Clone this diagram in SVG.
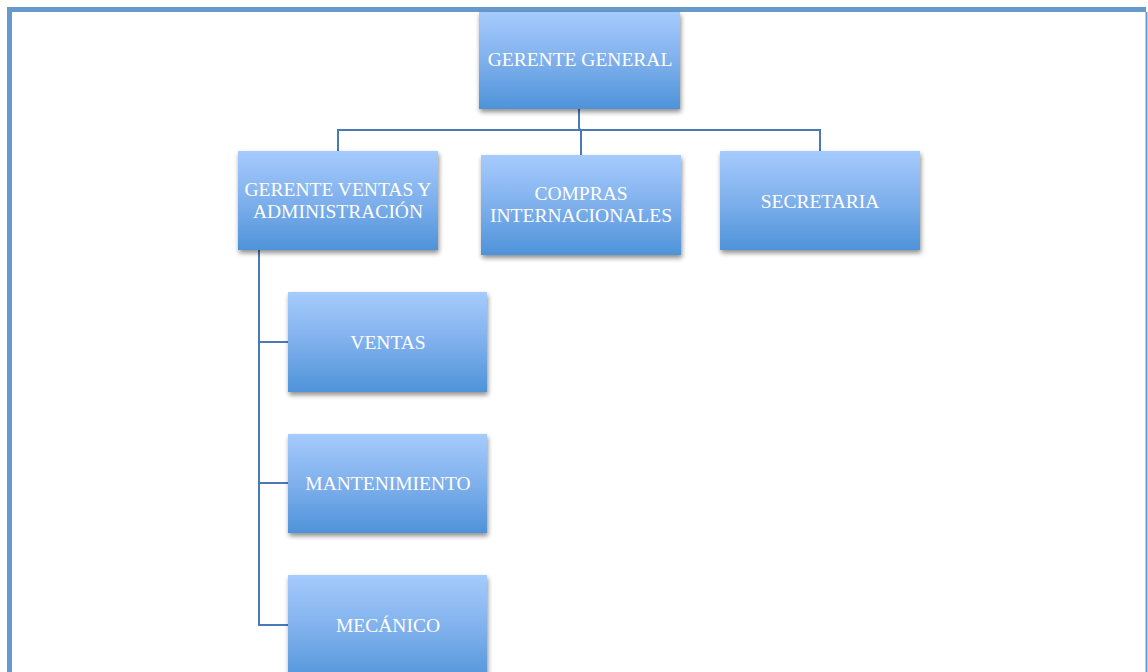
<svg xmlns="http://www.w3.org/2000/svg" width="1148" height="672" viewBox="0 0 1148 672">
  <defs>
    <linearGradient id="boxFill" x1="0" y1="0" x2="0" y2="1">
      <stop offset="0" stop-color="#a6cbfd"/>
      <stop offset="0.5" stop-color="#7fb0ec"/>
      <stop offset="1" stop-color="#4e93d9"/>
    </linearGradient>
    <filter id="shadow" x="-10%" y="-10%" width="125%" height="130%">
      <feGaussianBlur in="SourceAlpha" stdDeviation="2.5"/>
      <feOffset dx="1" dy="3" result="b"/>
      <feComponentTransfer><feFuncA type="linear" slope="0.45"/></feComponentTransfer>
      <feMerge><feMergeNode/><feMergeNode in="SourceGraphic"/></feMerge>
    </filter>
    <style>
      .box { fill: url(#boxFill); filter: url(#shadow); }
      .lbl { font-family: "Liberation Serif", "DejaVu Serif", serif; font-size: 19.5px; fill: #ffffff; text-anchor: middle; }
      .conn { fill: none; stroke: #4a7ab5; stroke-width: 2; }
      .frame { fill: none; stroke: #6699cc; stroke-width: 5; }
    </style>
  </defs>

  <rect width="1148" height="672" fill="#ffffff"/>

  <!-- page frame -->
  <path class="frame" d="M9.5,680 V9.5 H1146"/>
  <line x1="1146.5" y1="12" x2="1146.5" y2="672" stroke="#6699cc" stroke-width="2"/>

  <!-- connectors -->
  <g id="connectors">
    <path class="conn" d="M579,109 V128 L581,131 V155"/>
    <path class="conn" d="M338,151 V130 H820 V151"/>
    <path class="conn" d="M259,250 V625 H288"/>
    <path class="conn" d="M259,342 H288"/>
    <path class="conn" d="M259,483 H288"/>
  </g>

  <g id="gerente-general">
    <rect class="box" x="479" y="12" width="201" height="97"/>
    <text class="lbl" x="580" y="66">GERENTE GENERAL</text>
  </g>

  <g id="gerente-ventas">
    <rect class="box" x="238" y="151" width="200" height="99"/>
    <text class="lbl" x="338" y="196">GERENTE VENTAS Y</text>
    <text class="lbl" x="338" y="218">ADMINISTRACIÓN</text>
  </g>

  <g id="compras">
    <rect class="box" x="481" y="155" width="200" height="100"/>
    <text class="lbl" x="581" y="200">COMPRAS</text>
    <text class="lbl" x="581" y="222">INTERNACIONALES</text>
  </g>

  <g id="secretaria">
    <rect class="box" x="720" y="151" width="200" height="99"/>
    <text class="lbl" x="820" y="208">SECRETARIA</text>
  </g>

  <g id="ventas">
    <rect class="box" x="288" y="292" width="199" height="100"/>
    <text class="lbl" x="388" y="349">VENTAS</text>
  </g>

  <g id="mantenimiento">
    <rect class="box" x="288" y="434" width="199" height="99"/>
    <text class="lbl" x="388" y="490">MANTENIMIENTO</text>
  </g>

  <g id="mecanico">
    <rect class="box" x="288" y="575" width="199" height="110"/>
    <text class="lbl" x="388" y="632">MECÁNICO</text>
  </g>
</svg>
